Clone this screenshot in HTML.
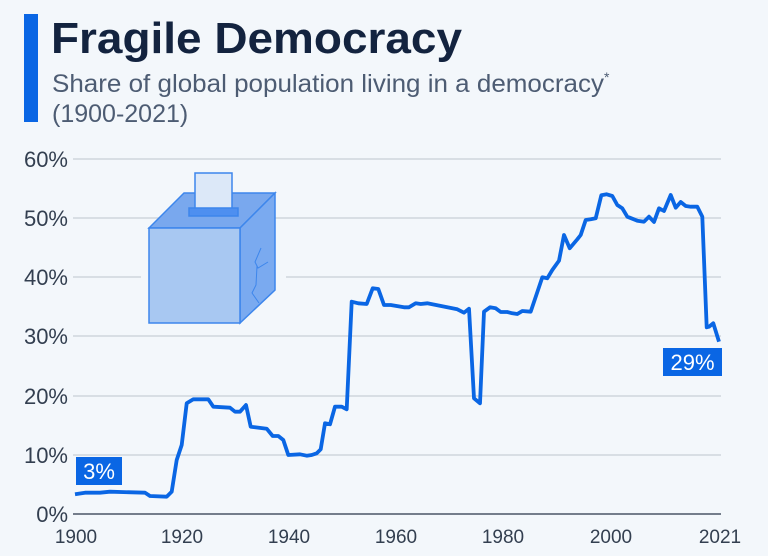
<!DOCTYPE html>
<html><head><meta charset="utf-8"><style>
html,body{margin:0;padding:0;background:#f3f7fb;}
body{width:768px;height:556px;position:relative;overflow:hidden;font-family:"Liberation Sans",sans-serif;}
</style></head><body>
<svg width="768" height="556" viewBox="0 0 768 556" style="position:absolute;left:0;top:0">
<rect x="24" y="14" width="14" height="108" fill="#0a66e4"/>
<text x="51" y="53" font-size="44" font-weight="bold" fill="#13233f" font-family="Liberation Sans,sans-serif" textLength="411" lengthAdjust="spacingAndGlyphs">Fragile Democracy</text>
<text x="52" y="92" font-size="25" fill="#4d5c73" font-family="Liberation Sans,sans-serif"><tspan textLength="552" lengthAdjust="spacingAndGlyphs">Share of global population living in a democracy</tspan><tspan font-size="14" dy="-10">*</tspan></text>
<text x="52" y="122" font-size="25" fill="#4d5c73" font-family="Liberation Sans,sans-serif">(1900-2021)</text>
<g stroke="#cfd5dc" stroke-width="1.5">
<line x1="73" y1="159" x2="721" y2="159"/><line x1="73" y1="218" x2="721" y2="218"/>
<line x1="73" y1="277" x2="141" y2="277"/><line x1="286" y1="277" x2="721" y2="277"/>
<line x1="73" y1="336" x2="721" y2="336"/><line x1="73" y1="396" x2="721" y2="396"/>
<line x1="73" y1="455" x2="721" y2="455"/>
</g>
<line x1="73" y1="514" x2="721" y2="514" stroke="#4a5566" stroke-width="1.5"/>
<g font-size="22" fill="#333f50" text-anchor="end" font-family="Liberation Sans,sans-serif">
<text x="68" y="167">60%</text><text x="68" y="226">50%</text><text x="68" y="285">40%</text>
<text x="68" y="344">30%</text><text x="68" y="404">20%</text><text x="68" y="463">10%</text><text x="68" y="522">0%</text>
</g>
<g font-size="19" fill="#333f50" text-anchor="middle" font-family="Liberation Sans,sans-serif">
<text x="76" y="543">1900</text><text x="182" y="543">1920</text><text x="289" y="543">1940</text>
<text x="396" y="543">1960</text><text x="503" y="543">1980</text><text x="611" y="543">2000</text><text x="720" y="543">2021</text>
</g>
<!-- ballot box -->
<g stroke="#3d86ec" stroke-width="1.5">
<polygon points="149,228 184,193 275,193 240,228" fill="#79a8ee"/>
<rect x="195" y="173" width="37" height="38" fill="#dce8f8"/>
<rect x="189" y="208" width="49" height="8" fill="#4e8ff0"/>
<polygon points="240,228 275,193 275,290 240,323" fill="#7aaaf0"/>
<rect x="149" y="228" width="91" height="95" fill="#a8c8f2"/>
<polyline points="261,248 255,262 258,268 268,262" fill="none" stroke-width="1"/>
<polyline points="257,266 256,285 252,293 259,303" fill="none" stroke-width="1"/>
</g>
<polyline fill="none" stroke="#0a66e4" stroke-width="3.8" stroke-linejoin="round" points="75,494.3 85,492.7 100,492.7 110,491.7 145,492.7 150,496 166.7,496.7 171.7,491.7 176.7,460 181.7,445 186.7,403.3 193.3,399.3 208.3,399.3 213.3,406.7 230,407.7 235,411.7 240,411.7 246,405 250.7,426.7 255,427.3 266.7,428.7 272.7,436 278.3,436 283.3,440 288.3,455 300,454.3 306.7,455.7 311.7,455 316.7,453.3 320.7,449.3 325,423.3 330,424.3 335,406.7 341.7,406.7 346.7,409.3 351.7,301.7 358.3,303.3 366.7,304 372.7,288.3 378.3,289 384,305 390.7,305 404,307.3 409,307.3 415.7,303.3 420.7,304 427.3,303.3 457.3,309.3 464,312.7 469,308.7 474,398.3 480,403.3 484,311.7 490,307.3 495.7,308.3 500.7,312 507.3,312 512.3,313.3 517.3,314 522.3,311 530.7,311.7 542.3,277.3 547.3,278.3 552.3,270 559,260.7 564,235 569.7,248.3 577.3,239.3 580.7,235 585.7,220 590.7,219.3 595.7,218.3 601.3,195.3 606.7,194.3 612.3,196 617.3,205 622.3,208.3 627.3,216.7 637.3,220.7 644,221.7 649,216.7 654,222 659,208.3 664,211 670.7,195 675.7,207.7 680.7,202 685.7,206 690.7,206.7 697.3,206.7 702.3,216.7 706.7,327.3 709,326.7 713.3,323.3 719,341.7"/>
<rect x="76" y="457" width="46" height="28" fill="#0a66e4"/>
<text x="99" y="479" font-size="22" fill="#fff" text-anchor="middle" font-family="Liberation Sans,sans-serif">3%</text>
<rect x="663" y="348" width="59" height="28" fill="#0a66e4"/>
<text x="692.5" y="370" font-size="22" fill="#fff" text-anchor="middle" font-family="Liberation Sans,sans-serif">29%</text>
</svg>
</body></html>
